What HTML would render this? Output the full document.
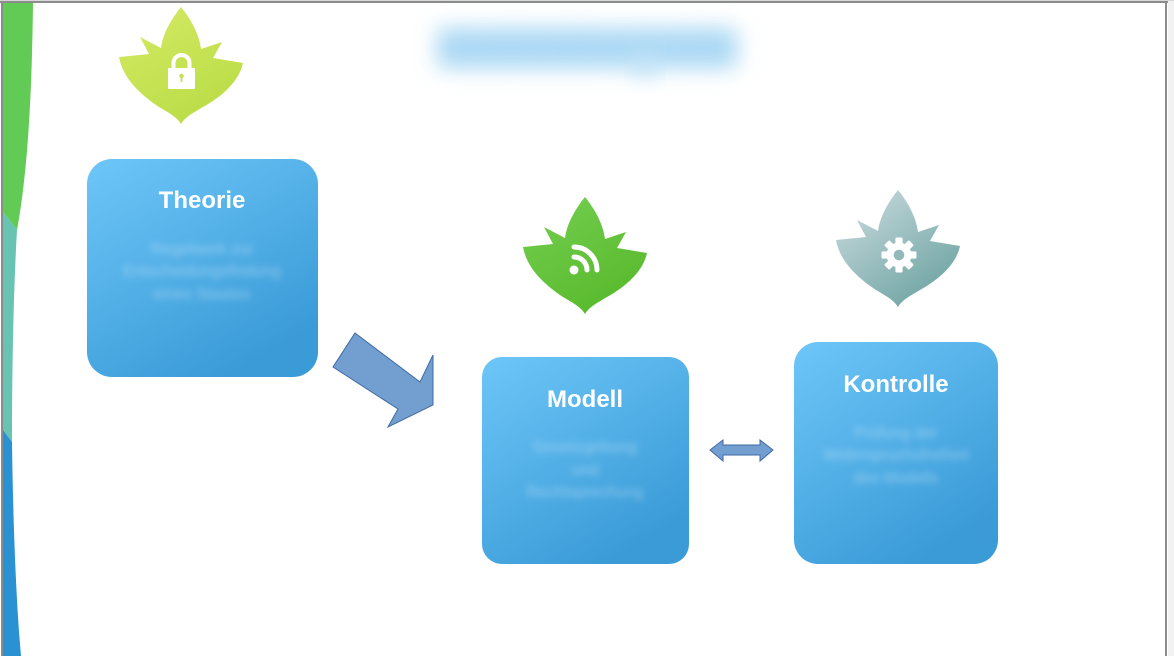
<!DOCTYPE html>
<html>
<head>
<meta charset="utf-8">
<style>
  html,body{margin:0;padding:0;background:#fff;}
  body{width:1174px;height:656px;overflow:hidden;}
  svg{display:block;}
  .t{font-family:"Liberation Sans",Arial,sans-serif;font-weight:bold;font-size:24px;fill:#fff;text-anchor:middle;}
  .b{font-family:"Liberation Sans",Arial,sans-serif;font-size:16px;fill:#ffffff;fill-opacity:0.38;text-anchor:middle;}
</style>
</head>
<body>
<svg width="1174" height="656" viewBox="0 0 1174 656" xmlns="http://www.w3.org/2000/svg">
  <defs>
    <linearGradient id="box" x1="0" y1="0" x2="0.6" y2="1">
      <stop offset="0" stop-color="#6ec6f8"/>
      <stop offset="1" stop-color="#3a9bd7"/>
    </linearGradient>
    <linearGradient id="lime" x1="0.2" y1="0" x2="0.8" y2="1">
      <stop offset="0" stop-color="#d3e963"/>
      <stop offset="1" stop-color="#b8dc44"/>
    </linearGradient>
    <linearGradient id="grn" x1="0.2" y1="0" x2="0.8" y2="1">
      <stop offset="0" stop-color="#72cd4e"/>
      <stop offset="1" stop-color="#57b82a"/>
    </linearGradient>
    <linearGradient id="gry" x1="0.15" y1="0.1" x2="0.85" y2="1">
      <stop offset="0" stop-color="#c2d6da"/>
      <stop offset="1" stop-color="#68a09e"/>
    </linearGradient>
    <filter id="blur" x="-20%" y="-60%" width="140%" height="220%">
      <feGaussianBlur stdDeviation="3.2"/>
    </filter>
    <filter id="blurT" x="-30%" y="-150%" width="160%" height="400%">
      <feGaussianBlur stdDeviation="11"/>
    </filter>
    <path id="leaf" d="M 0 0 C 9 11, 18 26, 20 42 L 41 35 L 32 51 L 62 56 C 58 75, 40 90, 22 100 C 12 106, 4 110, 0 117 C -4 110, -12 106, -22 100 C -40 88, -58 72, -62 50 L -32 47 L -41 30 L -20 41 C -18 26, -9 11, 0 0 Z"/>
  </defs>

  <!-- background outside frame -->
  <rect x="0" y="0" width="1174" height="656" fill="#ffffff"/>
  <rect x="1168" y="0" width="6" height="656" fill="#f2f2f2"/>

  <!-- left decorative stripes -->
  <path d="M 3 3 L 33 3 C 32 80, 29 165, 17 230 L 3 212 Z" fill="#62cb56"/>
  <path d="M 3 212 L 17 230 C 13 300, 12 380, 12 442 L 3 430 Z" fill="#69c3b2"/>
  <path d="M 3 430 L 12 442 C 13 520, 16 600, 21 656 L 3 656 Z" fill="#2a91d2"/>

  <!-- frame -->
  <rect x="0" y="0" width="1174" height="1" fill="#d8d8d8"/>
  <rect x="0" y="1" width="1168" height="2" fill="#8c8c8c"/>
  <rect x="1" y="1" width="2" height="655" fill="#8c8c8c"/>
  <rect x="1165" y="1" width="2" height="655" fill="#8c8c8c"/>

  <!-- blurred title -->
  <rect x="438" y="28" width="298" height="40" fill="#acd9f4" filter="url(#blurT)"/>
  <rect x="632" y="55" width="26" height="20" fill="#c4e4f7" filter="url(#blurT)"/>
  <text x="588" y="58" font-family="Liberation Sans, Arial, sans-serif" font-size="32" fill="#a6d7f3" fill-opacity="0.6" text-anchor="middle" textLength="300" lengthAdjust="spacingAndGlyphs" filter="url(#blurT)">Gewaltenteilung im Staat</text>

  <!-- lock leaf -->
  <use href="#leaf" transform="translate(181,7)" fill="url(#lime)"/>
  <path d="M 173.5 68 V 63 A 8 8 0 0 1 189.5 63 V 68" fill="none" stroke="#fff" stroke-width="4"/>
  <rect x="168" y="68" width="27" height="21" rx="1" fill="#fff"/>
  <circle cx="181.5" cy="76" r="2.2" fill="#c3e050"/>
  <rect x="180.6" y="76" width="1.8" height="6" fill="#c3e050"/>

  <!-- rss leaf -->
  <use href="#leaf" transform="translate(585,197)" fill="url(#grn)"/>
  <circle cx="574" cy="270" r="4.5" fill="#fff"/>
  <path d="M 574 257 A 13 13 0 0 1 587 270" fill="none" stroke="#fff" stroke-width="5" stroke-linecap="round"/>
  <path d="M 574 247 A 23 23 0 0 1 597 270" fill="none" stroke="#fff" stroke-width="5" stroke-linecap="round"/>

  <!-- gear leaf -->
  <use href="#leaf" transform="translate(898,190)" fill="url(#gry)"/>
  <g transform="translate(899,255)" fill="#fff">
    <circle r="12.5"/>
    <rect x="-3.6" y="-17.5" width="7.2" height="8" rx="1.2"/>
    <rect x="-3.6" y="-17.5" width="7.2" height="8" rx="1.2" transform="rotate(45)"/>
    <rect x="-3.6" y="-17.5" width="7.2" height="8" rx="1.2" transform="rotate(90)"/>
    <rect x="-3.6" y="-17.5" width="7.2" height="8" rx="1.2" transform="rotate(135)"/>
    <rect x="-3.6" y="-17.5" width="7.2" height="8" rx="1.2" transform="rotate(180)"/>
    <rect x="-3.6" y="-17.5" width="7.2" height="8" rx="1.2" transform="rotate(225)"/>
    <rect x="-3.6" y="-17.5" width="7.2" height="8" rx="1.2" transform="rotate(270)"/>
    <rect x="-3.6" y="-17.5" width="7.2" height="8" rx="1.2" transform="rotate(315)"/>
    <circle r="5.3" fill="#93b8b9"/>
  </g>

  <!-- Theorie box -->
  <rect x="87" y="159" width="231" height="218" rx="25" fill="url(#box)"/>
  <text class="t" x="202" y="208">Theorie</text>
  <g filter="url(#blur)">
    <text class="b" x="202" y="254">Regelwerk zur</text>
    <text class="b" x="202" y="276">Entscheidungsfindung</text>
    <text class="b" x="202" y="299">eines Staates</text>
  </g>

  <!-- Modell box -->
  <rect x="482" y="357" width="207" height="207" rx="20" fill="url(#box)"/>
  <text class="t" x="585" y="407">Modell</text>
  <g filter="url(#blur)">
    <text class="b" x="585" y="452">Gesetzgebung</text>
    <text class="b" x="585" y="475">und</text>
    <text class="b" x="585" y="497">Rechtsprechung</text>
  </g>

  <!-- Kontrolle box -->
  <rect x="794" y="342" width="204" height="222" rx="24" fill="url(#box)"/>
  <text class="t" x="896" y="392">Kontrolle</text>
  <g filter="url(#blur)">
    <text class="b" x="896" y="438">Prüfung der</text>
    <text class="b" x="896" y="460">Widerspruchsfreiheit</text>
    <text class="b" x="896" y="483">des Modells</text>
  </g>

  <!-- big arrow -->
  <polygon points="355,333 420,382 433,355 433,405 388,427 398,409 333,367" fill="#729fcf" stroke="#3f6aa6" stroke-width="1" stroke-linejoin="miter"/>

  <!-- double arrow -->
  <polygon points="710,450 723,440 723,445 760,445 760,440 773,450 760,461 760,455 723,455 723,461" fill="#729fcf" stroke="#3f6aa6" stroke-width="1"/>
</svg>
</body>
</html>
